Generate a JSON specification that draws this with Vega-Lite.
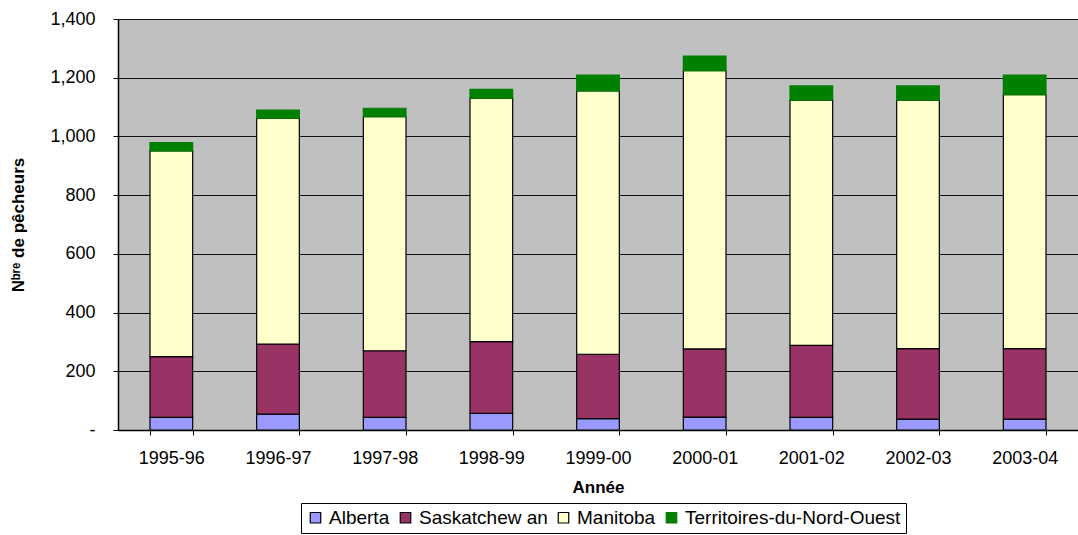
{
  "$schema": "https://vega.github.io/schema/vega-lite/v6.json",
  "width": 960,
  "height": 411,
  "autosize": {"type": "none"},
  "padding": {"left": 118, "top": 19, "right": 0, "bottom": 105},
  "background": "white",
  "config": {
    "font": "Liberation Sans",
    "view": {"fill": "#C0C0C0", "stroke": null}
  },
  "data": {
    "values": [
      {"annee": "1995-96", "region": "Alberta", "ordre": 1, "n": 43},
      {"annee": "1995-96", "region": "Saskatchewan", "ordre": 2, "n": 207},
      {"annee": "1995-96", "region": "Manitoba", "ordre": 3, "n": 701},
      {"annee": "1995-96", "region": "Territoires-du-Nord-Ouest", "ordre": 4, "n": 28},
      {"annee": "1996-97", "region": "Alberta", "ordre": 1, "n": 54},
      {"annee": "1996-97", "region": "Saskatchewan", "ordre": 2, "n": 239},
      {"annee": "1996-97", "region": "Manitoba", "ordre": 3, "n": 769},
      {"annee": "1996-97", "region": "Territoires-du-Nord-Ouest", "ordre": 4, "n": 28},
      {"annee": "1997-98", "region": "Alberta", "ordre": 1, "n": 43},
      {"annee": "1997-98", "region": "Saskatchewan", "ordre": 2, "n": 227},
      {"annee": "1997-98", "region": "Manitoba", "ordre": 3, "n": 797},
      {"annee": "1997-98", "region": "Territoires-du-Nord-Ouest", "ordre": 4, "n": 29},
      {"annee": "1998-99", "region": "Alberta", "ordre": 1, "n": 57},
      {"annee": "1998-99", "region": "Saskatchewan", "ordre": 2, "n": 244},
      {"annee": "1998-99", "region": "Manitoba", "ordre": 3, "n": 829},
      {"annee": "1998-99", "region": "Territoires-du-Nord-Ouest", "ordre": 4, "n": 30},
      {"annee": "1999-00", "region": "Alberta", "ordre": 1, "n": 39},
      {"annee": "1999-00", "region": "Saskatchewan", "ordre": 2, "n": 219},
      {"annee": "1999-00", "region": "Manitoba", "ordre": 3, "n": 897},
      {"annee": "1999-00", "region": "Territoires-du-Nord-Ouest", "ordre": 4, "n": 54},
      {"annee": "2000-01", "region": "Alberta", "ordre": 1, "n": 44},
      {"annee": "2000-01", "region": "Saskatchewan", "ordre": 2, "n": 232},
      {"annee": "2000-01", "region": "Manitoba", "ordre": 3, "n": 948},
      {"annee": "2000-01", "region": "Territoires-du-Nord-Ouest", "ordre": 4, "n": 50},
      {"annee": "2001-02", "region": "Alberta", "ordre": 1, "n": 43},
      {"annee": "2001-02", "region": "Saskatchewan", "ordre": 2, "n": 245},
      {"annee": "2001-02", "region": "Manitoba", "ordre": 3, "n": 836},
      {"annee": "2001-02", "region": "Territoires-du-Nord-Ouest", "ordre": 4, "n": 48},
      {"annee": "2002-03", "region": "Alberta", "ordre": 1, "n": 37},
      {"annee": "2002-03", "region": "Saskatchewan", "ordre": 2, "n": 240},
      {"annee": "2002-03", "region": "Manitoba", "ordre": 3, "n": 847},
      {"annee": "2002-03", "region": "Territoires-du-Nord-Ouest", "ordre": 4, "n": 48},
      {"annee": "2003-04", "region": "Alberta", "ordre": 1, "n": 37},
      {"annee": "2003-04", "region": "Saskatchewan", "ordre": 2, "n": 240},
      {"annee": "2003-04", "region": "Manitoba", "ordre": 3, "n": 865},
      {"annee": "2003-04", "region": "Territoires-du-Nord-Ouest", "ordre": 4, "n": 67}
    ]
  },
  "mark": {"type": "bar", "strokeWidth": 1.2},
  "encoding": {
    "x": {
      "field": "annee",
      "type": "nominal",
      "sort": null,
      "scale": {"paddingInner": 0.6, "paddingOuter": 0.3},
      "axis": {
        "title": "Année",
        "titleFont": "Liberation Sans",
        "titleFontSize": 17,
        "titleFontWeight": "bold",
        "titleColor": "black",
        "titlePadding": 12,
        "labelAngle": 0,
        "labelFontSize": 18,
        "labelColor": "black",
        "labelPadding": 14,
        "tickBand": "extent",
        "tickColor": "black",
        "tickSize": 5,
        "domainColor": "black",
        "domainWidth": 1.5,
        "grid": false
      }
    },
    "y": {
      "field": "n",
      "type": "quantitative",
      "stack": "zero",
      "scale": {"domain": [0, 1400], "nice": false},
      "axis": {
        "title": "Nᵇʳᵉ de pêcheurs",
        "titleFont": "Liberation Sans, DejaVu Sans",
        "titleFontSize": 17,
        "titleFontWeight": "bold",
        "titleColor": "black",
        "titlePadding": 22,
        "values": [0, 200, 400, 600, 800, 1000, 1200, 1400],
        "labelExpr": "datum.value == 0 ? '-' : format(datum.value, ',')",
        "labelFontSize": 18,
        "labelColor": "black",
        "labelPadding": 18,
        "tickColor": "black",
        "tickSize": 5,
        "domainColor": "black",
        "domainWidth": 1.5,
        "grid": true,
        "gridColor": "#111111",
        "gridWidth": 1
      }
    },
    "color": {
      "field": "region",
      "type": "nominal",
      "sort": ["Alberta", "Saskatchewan", "Manitoba", "Territoires-du-Nord-Ouest"],
      "scale": {
        "domain": ["Alberta", "Saskatchewan", "Manitoba", "Territoires-du-Nord-Ouest"],
        "range": ["#9999FF", "#993366", "#FFFFCC", "#008000"]
      },
      "legend": {
        "title": null,
        "orient": "none",
        "legendX": 183,
        "legendY": 484,
        "direction": "horizontal",
        "labelExpr": "datum.label == 'Saskatchewan' ? 'Saskatchew an' : datum.label",
        "labelFontSize": 19,
        "labelLimit": 0,
        "labelColor": "black",
        "labelFont": "Liberation Sans",
        "symbolType": "square",
        "symbolSize": 110,
        "symbolStrokeColor": "black",
        "symbolStrokeWidth": 1.2,
        "symbolOpacity": 1,
        "columnPadding": 6,
        "labelOffset": 4,
        "strokeColor": "black",
        "padding": 5,
        "fillColor": "white"
      }
    },
    "stroke": {
      "field": "region",
      "type": "nominal",
      "scale": {
        "domain": ["Alberta", "Saskatchewan", "Manitoba", "Territoires-du-Nord-Ouest"],
        "range": ["black", "black", "black", "#008000"]
      },
      "legend": null
    },
    "order": {"field": "ordre", "type": "quantitative"}
  }
}
